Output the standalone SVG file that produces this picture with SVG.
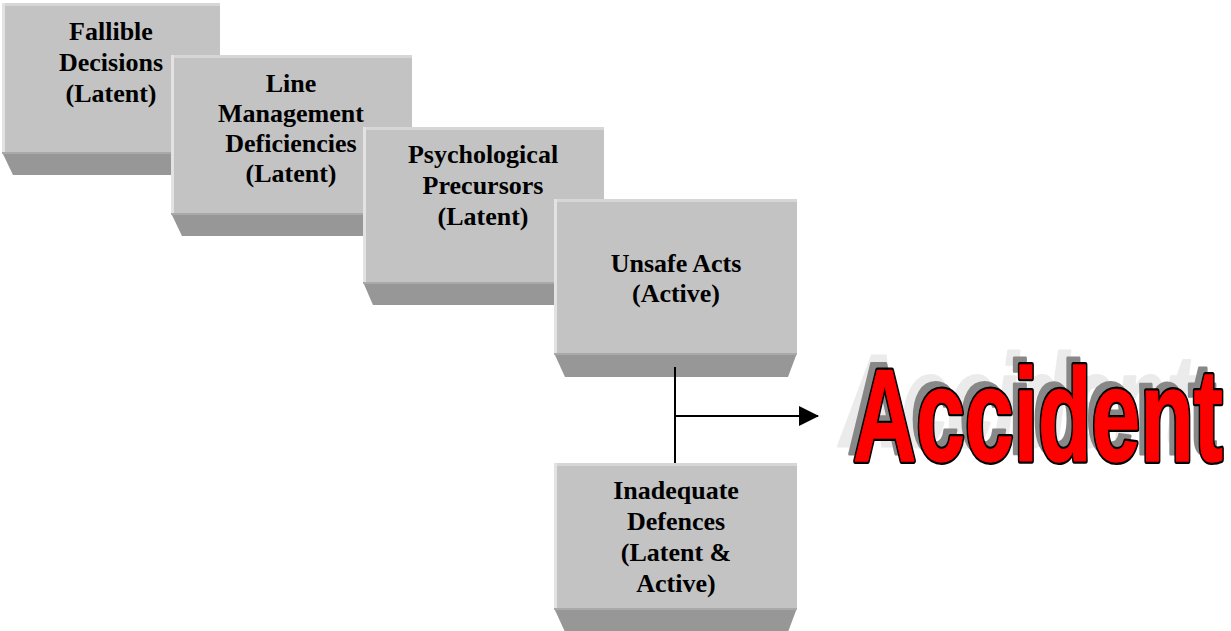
<svg xmlns="http://www.w3.org/2000/svg" width="1231" height="631" viewBox="0 0 1231 631">
<style>
.face{fill:#c3c3c3}
.top{fill:#d6d6d6}
.left{fill:#e2e2e2}
.base{fill:#979797}
.baseTop{fill:#a9a9a9}
.lbl{font-family:"Liberation Serif","Times New Roman",serif;font-weight:bold;font-size:26px;fill:#000;text-anchor:middle}
.conn{stroke:#000;stroke-width:2;fill:none}
.acc{font-family:"Liberation Sans",Arial,sans-serif;font-weight:bold;font-size:131px;stroke-linejoin:round}
</style>
<defs>
<marker id="arr" markerWidth="20" markerHeight="20" refX="19" refY="10" orient="auto" markerUnits="userSpaceOnUse">
<path d="M0,0 L20,10 L0,20 Z" fill="#000"/>
</marker>
</defs>

<g id="node-fallible">
<polygon class="base" points="2,152 220,152 211,175 13,175"/>
<rect class="baseTop" x="2" y="152" width="218" height="2"/>
<rect class="face" x="2" y="3" width="218" height="149"/>
<rect class="top" x="2" y="3" width="218" height="3"/>
<rect class="left" x="2" y="3" width="3" height="149"/>
<text class="lbl" x="111" y="40">Fallible</text>
<text class="lbl" x="111" y="71">Decisions</text>
<text class="lbl" x="111" y="102">(Latent)</text>
</g>

<g id="node-line-management">
<polygon class="base" points="171,213 412,213 403,236 182,236"/>
<rect class="baseTop" x="171" y="213" width="241" height="2"/>
<rect class="face" x="171" y="55" width="241" height="158"/>
<rect class="top" x="171" y="55" width="241" height="3"/>
<rect class="left" x="171" y="55" width="3" height="158"/>
<text class="lbl" x="291" y="92">Line</text>
<text class="lbl" x="291" y="122">Management</text>
<text class="lbl" x="291" y="152">Deficiencies</text>
<text class="lbl" x="291" y="182">(Latent)</text>
</g>

<g id="node-psychological">
<polygon class="base" points="363,282 604,282 595,305 373,305"/>
<rect class="baseTop" x="363" y="282" width="241" height="2"/>
<rect class="face" x="363" y="127" width="241" height="155"/>
<rect class="top" x="363" y="127" width="241" height="3"/>
<rect class="left" x="363" y="127" width="3" height="155"/>
<text class="lbl" x="483" y="163">Psychological</text>
<text class="lbl" x="483" y="194">Precursors</text>
<text class="lbl" x="483" y="225">(Latent)</text>
</g>

<g id="node-unsafe-acts">
<polygon class="base" points="554,353 797,353 788,377 565,377"/>
<rect class="baseTop" x="554" y="353" width="243" height="2"/>
<rect class="face" x="554" y="199" width="243" height="154"/>
<rect class="top" x="554" y="199" width="243" height="3"/>
<rect class="left" x="554" y="199" width="3" height="154"/>
<text class="lbl" x="676" y="272">Unsafe Acts</text>
<text class="lbl" x="676" y="302">(Active)</text>
</g>

<g id="node-defences">
<polygon class="base" points="554,608 797,608 788,632 565,632"/>
<rect class="baseTop" x="554" y="608" width="243" height="2"/>
<rect class="face" x="554" y="463" width="243" height="145"/>
<rect class="top" x="554" y="463" width="243" height="3"/>
<rect class="left" x="554" y="463" width="3" height="145"/>
<text class="lbl" x="676" y="499">Inadequate</text>
<text class="lbl" x="676" y="530">Defences</text>
<text class="lbl" x="676" y="561">(Latent &amp;</text>
<text class="lbl" x="676" y="592">Active)</text>
</g>

<g id="connectors">
<line class="conn" x1="675" y1="367" x2="675" y2="463"/>
<line class="conn" x1="675" y1="416" x2="818" y2="416" marker-end="url(#arr)"/>
</g>

<g id="node-accident">
<text class="acc" x="836" y="446" textLength="352" lengthAdjust="spacingAndGlyphs" fill="#ebebeb" stroke="#ebebeb" stroke-width="3" transform="translate(836,446) skewX(-8) translate(-836,-446)">Accident</text>
<text class="acc" x="847" y="454" textLength="370" lengthAdjust="spacingAndGlyphs" fill="#888888" stroke="#888888" stroke-width="3">Accident</text>
<text class="acc" x="853" y="461" textLength="370" lengthAdjust="spacingAndGlyphs" fill="#000" stroke="#000" stroke-width="6">Accident</text>
<text class="acc" x="853" y="461" textLength="370" lengthAdjust="spacingAndGlyphs" fill="#ff0000" stroke="#ff0000" stroke-width="1.5">Accident</text>
</g>
</svg>
